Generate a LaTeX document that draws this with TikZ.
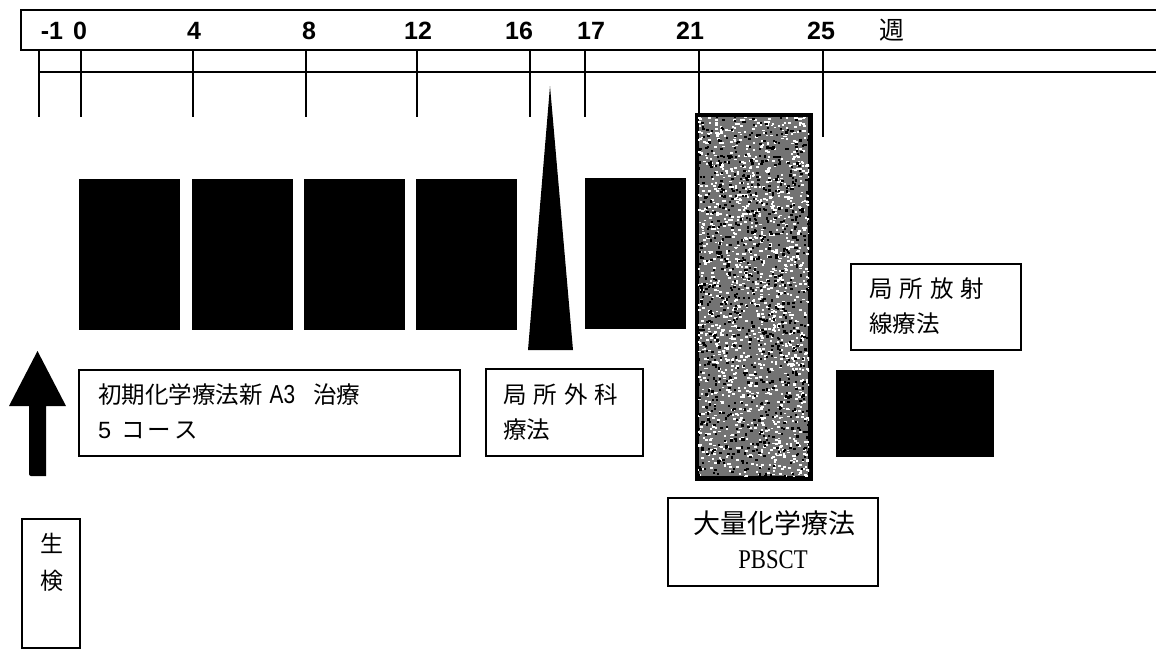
\documentclass[tikz,border=0pt]{standalone}
\usepackage{fontspec}
\setmainfont{Liberation Serif}
\newfontfamily\cjk{Noto Sans CJK JP}
\newfontfamily\numf{Liberation Sans}
\tikzset{
  tline/.style={line width=2.4pt},
  course/.style={fill=black, draw=none, minimum width=101pt, minimum height=151pt, inner sep=0pt},
  lbox/.style={draw, line width=2.2pt, inner sep=0pt, fill=white},
  wk/.style={font=\numf\bfseries\fontsize{25}{25}\selectfont, inner sep=0pt},
  jtxt/.style={font=\cjk\fontsize{23.5}{35}\selectfont, inner sep=0pt, align=left},
}
\begin{document}
\begin{tikzpicture}[x=1pt,y=-1pt]
\useasboundingbox (0,0) rectangle (1156,648);
% timeline header
\draw[tline] (1170,10) -- (21,10) -- (21,50) -- (1170,50);
\draw[tline] (39,72) -- (1170,72);
\foreach \xx in {39,81,193,306,417,530,585}{
  \draw[tline] (\xx,50) -- (\xx,117);
}
\draw[tline] (699,50) -- (699,115);
\draw[tline] (823,50) -- (823,137);
\node[wk] (wm1) at (52,31) {-1};
\node[wk] (w0) at (80,31) {0};
\node[wk] (w4) at (194,31) {4};
\node[wk] (w8) at (309,31) {8};
\node[wk] (w12) at (418,31) {12};
\node[wk] (w16) at (519,31) {16};
\node[wk] (w17) at (591,31) {17};
\node[wk] (w21) at (690,31) {21};
\node[wk] (w25) at (821,31) {25};
\node[font=\cjk\fontsize{25}{25}\selectfont, inner sep=0pt] (wk) at (892,30) {週};
% courses
\node[course] (c1) at (129.5,254) {};
\node[course] (c2) at (242,254) {};
\node[course] (c3) at (354,254) {};
\node[course] (c4) at (466.5,254) {};
\node[course] (c5) at (635,253) {};
% surgery triangle
\fill (550,86) -- (573,350) -- (528,350) -- cycle;
% high dose box
\node[draw, line width=3pt, fill=black!55, minimum width=112pt, minimum height=362pt, inner sep=0pt] (hd) at (753.5,296.5) {};
\begin{scope}
\clip (698,117) rectangle (809,476);
\pgfmathsetseed{11}
\foreach \i in {1,...,1500}{
  \pgfmathsetmacro\rx{697+rnd*112}
  \pgfmathsetmacro\ry{116+rnd*360}
  \fill[white] (\rx,\ry) rectangle ++(2.6,1.8);
}
\foreach \i in {1,...,900}{
  \pgfmathsetmacro\rx{697+rnd*112}
  \pgfmathsetmacro\ry{116+rnd*360}
  \fill[black] (\rx,\ry) rectangle ++(2.4,2.2);
}
\end{scope}
\draw[line width=3pt] (hd.north west) rectangle (hd.south east);
% radiation block
\node[fill=black, minimum width=158pt, minimum height=87pt, inner sep=0pt] (rt) at (915,413.5) {};
% biopsy arrow
\fill (37.5,351) -- (66,406) -- (46,406) -- (46,476) [rounded corners=2pt] -- (29,476) [sharp corners] -- (29,406) -- (9,406) -- cycle;
% label boxes
\node[lbox, minimum width=381pt, minimum height=86pt] (b1) at (269.5,413) {};
\node[jtxt, anchor=west] (t1) at (98,411) {初期化学療法新\hspace{7pt}{\numf\fontsize{26}{35}\selectfont\scalebox{0.8}[1]{A3}}\hspace{18pt}治療\\{\numf 5}\hspace{10pt}コ\hspace{3pt}ー\hspace{3pt}ス};
\node[lbox, minimum width=157pt, minimum height=87pt] (b2) at (564.5,412.5) {};
\node[jtxt, anchor=west] (t2) at (503,412) {局\hspace{7pt}所\hspace{7pt}外\hspace{7pt}科\\療法};
\node[lbox, minimum width=170pt, minimum height=86pt] (b3) at (936,307) {};
\node[jtxt, anchor=west] (t3) at (869,306) {局\hspace{7pt}所\hspace{7pt}放\hspace{7pt}射\\線療法};
\node[lbox, minimum width=210pt, minimum height=88pt] (b4) at (773,542) {};
\node[font=\cjk\fontsize{27}{27}\selectfont, inner sep=0pt] (t4a) at (774,523) {大量化学療法};
\node[font=\fontsize{27}{27}\selectfont, inner sep=0pt] (t4b) at (773,560) {\scalebox{0.84}[1]{PBSCT}};
\node[lbox, minimum width=58pt, minimum height=129pt] (b5) at (51,583.5) {};
\node[font=\cjk\fontsize{23}{37}\selectfont, inner sep=0pt, align=center, anchor=north] (t5) at (52,533) {生\\検};
\end{tikzpicture}
\end{document}
